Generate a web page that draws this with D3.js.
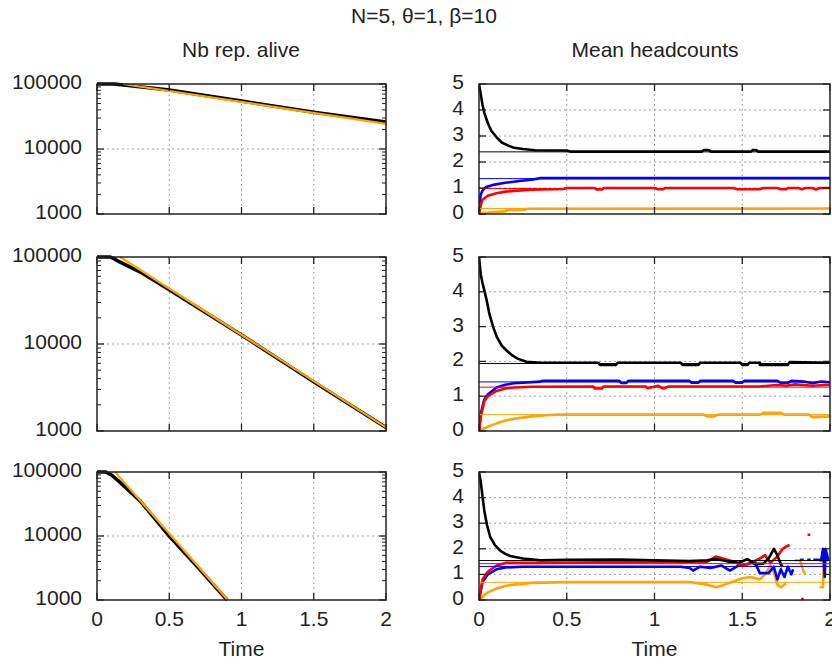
<!DOCTYPE html>
<html><head><meta charset="utf-8">
<script src="https://cdn.jsdelivr.net/npm/d3@7"></script>
<style>
body{margin:0;background:#fff;}
text{font-family:"Liberation Sans",Arial,sans-serif;fill:#222;}
</style></head>
<body><svg id="c" width="832" height="666"></svg>
<script>
// ---------- data ----------
const title = "N=5, θ=1, β=10";
const leftTitle = "Nb rep. alive";
const rightTitle = "Mean headcounts";
const xLabel = "Time";
const timeTicks = [0, 0.5, 1, 1.5, 2];
const logTicks = [1000, 10000, 100000];
const logMinor = [2000,3000,4000,5000,6000,7000,8000,9000,20000,30000,40000,50000,60000,70000,80000,90000];
const headTicks = [0, 1, 2, 3, 4, 5];

// Nb rep. alive: simulated (black) and theoretical (orange), [time, count]
const alive1Sim = [[0,100000],[0.12,100000],[0.2,96000],[0.5,81000],[1,54700],[1.5,36700],[2,26000]];
const alive1Th  = [[0.18,100000],[2,24300]];
const alive2Sim = [[0,100000],[0.09,100000],[0.12,95000],[0.15,89000],[0.3,67000],[0.5,42000],[1,12700],[1.5,3670],[2,1100]];
const alive2Th  = [[0.16,100000],[2,1100]];
const alive3Sim = [[0,100000],[0.06,100000],[0.1,90000],[0.15,72000],[0.3,35000],[0.5,10000],[0.7,3200],[0.9,1000]];
const alive3Th  = [[0.125,100000],[0.905,1000]];

// Mean headcounts, panel 1
const head1Black  = [[0,5],[0.01,4.6],[0.02,4.2],[0.03,3.9],[0.05,3.5],[0.07,3.2],[0.1,2.95],[0.13,2.75],[0.17,2.62],[0.2,2.55],[0.25,2.5],[0.32,2.45],[0.5,2.44],[0.52,2.4],[1.27,2.4],[1.28,2.46],[1.31,2.46],[1.32,2.4],[1.55,2.4],[1.56,2.46],[1.58,2.46],[1.59,2.4],[2,2.4]];
const head1Blue   = [[0,0],[0.005,0.5],[0.01,0.75],[0.02,0.9],[0.04,1.04],[0.08,1.12],[0.15,1.2],[0.23,1.27],[0.3,1.32],[0.35,1.38],[2,1.38]];
const head1Red    = [[0,0],[0.01,0.35],[0.02,0.55],[0.05,0.7],[0.1,0.8],[0.15,0.86],[0.2,0.89],[0.3,0.93],[0.48,0.96],[0.5,1.0],[0.66,1.0],[0.67,0.94],[0.7,0.94],[0.71,1.0],[1.0,1.0],[1.02,0.95],[1.05,0.95],[1.06,1.0],[1.45,1.0],[1.47,0.95],[1.6,0.95],[1.62,1.0],[1.7,1.0],[1.72,0.95],[1.75,0.95],[1.76,1.0],[1.82,1.0],[1.84,0.95],[1.86,1.0],[1.9,1.0],[1.92,0.94],[1.94,1.0],[2,1.0]];
const head1Orange = [[0,0],[0.03,0.04],[0.07,0.07],[0.15,0.1],[0.16,0.15],[0.26,0.16],[0.27,0.2],[2,0.21]];
const head1Ref = {black:2.39, blue:1.36, red:0.98, orange:0.21};

// panel 2
const head2Black  = [[0,5],[0.005,4.75],[0.01,4.5],[0.02,4.25],[0.03,4.05],[0.044,3.75],[0.06,3.35],[0.08,3.0],[0.1,2.72],[0.13,2.45],[0.16,2.3],[0.19,2.17],[0.22,2.08],[0.27,1.99],[0.35,1.96],[0.68,1.96],[0.69,1.9],[0.78,1.9],[0.79,1.96],[1.15,1.96],[1.16,1.9],[1.25,1.9],[1.26,1.96],[1.49,1.96],[1.5,1.9],[1.53,1.9],[1.54,1.96],[1.6,1.96],[1.6,1.9],[1.76,1.9],[1.77,1.98],[2,1.96]];
const head2Blue   = [[0,0],[0.01,0.5],[0.03,0.9],[0.05,1.05],[0.1,1.25],[0.15,1.33],[0.2,1.37],[0.35,1.42],[0.36,1.44],[0.8,1.44],[0.81,1.38],[0.84,1.38],[0.85,1.44],[1.2,1.44],[1.21,1.39],[1.25,1.39],[1.26,1.44],[1.45,1.44],[1.46,1.39],[1.5,1.39],[1.51,1.44],[1.7,1.44],[1.72,1.38],[1.76,1.38],[1.78,1.44],[1.85,1.42],[1.9,1.37],[1.95,1.42],[2,1.4]];
const head2Red    = [[0,0],[0.01,0.4],[0.03,0.85],[0.05,1.0],[0.1,1.15],[0.15,1.22],[0.2,1.25],[0.3,1.27],[0.65,1.28],[0.66,1.22],[0.7,1.22],[0.71,1.28],[0.95,1.28],[0.96,1.23],[1.02,1.3],[1.05,1.22],[1.08,1.28],[1.6,1.28],[1.7,1.32],[1.75,1.3],[1.8,1.34],[1.9,1.3],[2,1.33]];
const head2Orange = [[0,0],[0.02,0.05],[0.05,0.12],[0.1,0.22],[0.15,0.3],[0.2,0.35],[0.3,0.42],[0.4,0.46],[0.45,0.47],[1.28,0.47],[1.3,0.42],[1.34,0.42],[1.36,0.47],[1.6,0.47],[1.62,0.52],[1.72,0.52],[1.74,0.47],[1.88,0.47],[1.9,0.4],[2,0.42]];
const head2Ref = {black:1.94, blue:1.41, red:1.26, orange:0.47};

// panel 3
const head3Black  = [[0,5],[0.01,4.6],[0.02,4.05],[0.03,3.5],[0.045,2.95],[0.063,2.48],[0.09,2.15],[0.12,1.93],[0.15,1.8],[0.177,1.72],[0.25,1.62],[0.35,1.55],[0.5,1.57],[0.8,1.58],[1.0,1.55],[1.2,1.52],[1.3,1.55],[1.35,1.6],[1.42,1.5],[1.48,1.45],[1.53,1.6],[1.57,1.4],[1.62,1.42],[1.65,1.62],[1.68,2.0],[1.7,1.75],[1.72,1.4],[1.73,1.3]];
const head3Blue   = [[0,0],[0.02,0.7],[0.05,1.0],[0.1,1.2],[0.15,1.27],[0.25,1.3],[1.15,1.3],[1.2,1.25],[1.22,1.15],[1.26,1.3],[1.32,1.25],[1.38,1.35],[1.43,1.15],[1.48,1.35],[1.53,1.4],[1.57,1.5],[1.6,1.05],[1.65,1.05],[1.68,1.3],[1.7,0.8],[1.72,1.2],[1.74,0.9],[1.76,1.3],[1.78,1.0],[1.79,1.2],[1.8,null],[1.83,1.57],[1.85,1.57],[1.855,null],[1.87,1.57],[1.89,1.57],[1.895,null],[1.905,1.57],[1.93,1.57],[1.95,1.55],[1.96,2.0],[1.97,0.9],[1.975,2.0],[1.99,1.55]];
const head3Red    = [[0,0],[0.02,0.8],[0.05,1.1],[0.1,1.35],[0.15,1.45],[0.3,1.45],[1.3,1.5],[1.35,1.7],[1.4,1.6],[1.45,1.5],[1.5,1.35],[1.55,1.45],[1.6,1.62],[1.63,1.75],[1.66,1.45],[1.7,1.7],[1.73,2.0],[1.76,2.12],[1.77,2.15],[1.775,null],[1.835,0.04],[1.85,0.04],[1.855,null],[1.872,2.55],[1.888,2.55]];
const head3Orange = [[0,0],[0.05,0.3],[0.1,0.45],[0.15,0.55],[0.2,0.6],[0.3,0.67],[0.5,0.7],[1.2,0.7],[1.3,0.6],[1.35,0.5],[1.4,0.6],[1.5,0.85],[1.55,0.9],[1.6,0.8],[1.63,1.0],[1.66,1.35],[1.68,1.1],[1.7,0.6],[1.72,0.5],[1.75,0.65],[1.76,null],[1.8,1.55],[1.83,1.55],[1.85,1.1],[1.86,1.0],[1.87,null],[1.94,0.5],[1.96,0.5],[1.965,1.55],[1.99,1.55]];
const head3Ref = {black:1.54, blue:1.31, red:1.42, orange:0.69};

// ---------- layout / style ----------
const colors = {black:"#000000", blue:"#0000ff", red:"#ff0000", orange:"#ffa500"};
const rows = [{y0:84, y1:214},{y0:257, y1:431},{y0:472, y1:600}];
const L = {x0:97, x1:386}, R = {x0:479, x1:830};
const FS = 21;

const aliveData = [[alive1Sim, alive1Th],[alive2Sim, alive2Th],[alive3Sim, alive3Th]];
const headData = [
  {black:head1Black, blue:head1Blue, red:head1Red, orange:head1Orange, ref:head1Ref},
  {black:head2Black, blue:head2Blue, red:head2Red, orange:head2Orange, ref:head2Ref},
  {black:head3Black, blue:head3Blue, red:head3Red, orange:head3Orange, ref:head3Ref}
];

const svg = d3.select("#c");
svg.append("rect").attr("width",832).attr("height",666).attr("fill","#fff");

svg.append("text").attr("x",424).attr("y",23).attr("text-anchor","middle").attr("font-size",FS).text(title);
svg.append("text").attr("x",241).attr("y",57).attr("text-anchor","middle").attr("font-size",FS).text(leftTitle);
svg.append("text").attr("x",655).attr("y",57).attr("text-anchor","middle").attr("font-size",FS).text(rightTitle);

function frameAndGrid(g, x, y, yMajor, xr, yr){
  const gridC = "#a0a0a0";
  timeTicks.forEach(t=>{
    const px = x(t);
    if (px > xr[0]+1 && px < xr[1]-1)
      g.append("line").attr("x1",px).attr("x2",px).attr("y1",yr[0]).attr("y2",yr[1])
        .attr("stroke",gridC).attr("stroke-width",1).attr("stroke-dasharray","2,3");
  });
  yMajor.forEach(v=>{
    const py = y(v);
    if (py > yr[0]+1 && py < yr[1]-1)
      g.append("line").attr("x1",xr[0]).attr("x2",xr[1]).attr("y1",py).attr("y2",py)
        .attr("stroke",gridC).attr("stroke-width",1).attr("stroke-dasharray","2,3");
  });
}
function frameTicks(g, x, y, yMajor, yMinor, xr, yr, showX, fmtY){
  const c = "#222";
  timeTicks.forEach(t=>{
    const px = x(t);
    g.append("line").attr("x1",px).attr("x2",px).attr("y1",yr[1]).attr("y2",yr[1]-7).attr("stroke",c).attr("stroke-width",1.3);
    g.append("line").attr("x1",px).attr("x2",px).attr("y1",yr[0]).attr("y2",yr[0]+7).attr("stroke",c).attr("stroke-width",1.3);
    if (showX) g.append("text").attr("x",px).attr("y",626).attr("text-anchor","middle").attr("font-size",FS)
       .text(d3.format("")(t));
  });
  yMajor.forEach(v=>{
    const py = y(v);
    g.append("line").attr("x1",xr[0]).attr("x2",xr[0]+7).attr("y1",py).attr("y2",py).attr("stroke",c).attr("stroke-width",1.3);
    g.append("line").attr("x1",xr[1]).attr("x2",xr[1]-7).attr("y1",py).attr("y2",py).attr("stroke",c).attr("stroke-width",1.3);
    g.append("text").attr("x",xr[0]-15).attr("y",py+5).attr("text-anchor","end").attr("font-size",FS).text(fmtY(v));
  });
  yMinor.forEach(v=>{
    const py = y(v);
    g.append("line").attr("x1",xr[0]).attr("x2",xr[0]+4).attr("y1",py).attr("y2",py).attr("stroke",c).attr("stroke-width",1);
    g.append("line").attr("x1",xr[1]).attr("x2",xr[1]-4).attr("y1",py).attr("y2",py).attr("stroke",c).attr("stroke-width",1);
  });
  g.append("rect").attr("x",xr[0]).attr("y",yr[0]).attr("width",xr[1]-xr[0]).attr("height",yr[1]-yr[0])
    .attr("fill","none").attr("stroke",c).attr("stroke-width",1.5);
  if (showX) g.append("text").attr("x",(xr[0]+xr[1])/2).attr("y",656).attr("text-anchor","middle").attr("font-size",FS).text(xLabel);
}

rows.forEach((r,i)=>{
  const showX = i===2;
  // ---- left: log panel ----
  const gl = svg.append("g");
  const xl = d3.scaleLinear().domain([0,2]).range([L.x0,L.x1]);
  const yl = d3.scaleLog().domain([1000,100000]).range([r.y1,r.y0]);
  frameAndGrid(gl, xl, yl, logTicks, [L.x0,L.x1],[r.y0,r.y1]);
  const lineL = d3.line().x(d=>xl(d[0])).y(d=>yl(d[1]));
  const [sim, th] = aliveData[i];
  gl.append("path").attr("d",lineL(sim)).attr("fill","none").attr("stroke",colors.black).attr("stroke-width",3.5);
  gl.append("path").attr("d",lineL(th)).attr("fill","none").attr("stroke",colors.orange).attr("stroke-width",2.2);
  frameTicks(gl, xl, yl, logTicks, logMinor, [L.x0,L.x1],[r.y0,r.y1], showX, d3.format("d"));

  // ---- right: headcounts ----
  const gr = svg.append("g");
  const xr = d3.scaleLinear().domain([0,2]).range([R.x0,R.x1]);
  const yr = d3.scaleLinear().domain([0,5]).range([r.y1,r.y0]);
  frameAndGrid(gr, xr, yr, headTicks, [R.x0,R.x1],[r.y0,r.y1]);
  const clipId = "clip"+i;
  svg.append("clipPath").attr("id",clipId).append("rect").attr("x",R.x0).attr("y",r.y0-2).attr("width",R.x1-R.x0).attr("height",r.y1-r.y0+4);
  const cg = gr.append("g").attr("clip-path",`url(#${clipId})`);
  const lineR = d3.line().defined(d=>d[1]!==null).x(d=>xr(d[0])).y(d=>yr(d[1]));
  const hd = headData[i];
  ["orange","blue","red","black"].forEach(k=>{
    cg.append("path").attr("d",lineR(hd[k])).attr("fill","none").attr("stroke",colors[k]).attr("stroke-width",2.6).attr("stroke-linejoin","round");
  });
  ["orange","red","blue","black"].forEach(k=>{
    cg.append("line").attr("x1",xr(0)).attr("x2",xr(2)).attr("y1",yr(hd.ref[k])).attr("y2",yr(hd.ref[k]))
      .attr("stroke",colors[k]).attr("stroke-width",1);
  });
  frameTicks(gr, xr, yr, headTicks, [], [R.x0,R.x1],[r.y0,r.y1], showX, d3.format("d"));
});
</script></body></html>
